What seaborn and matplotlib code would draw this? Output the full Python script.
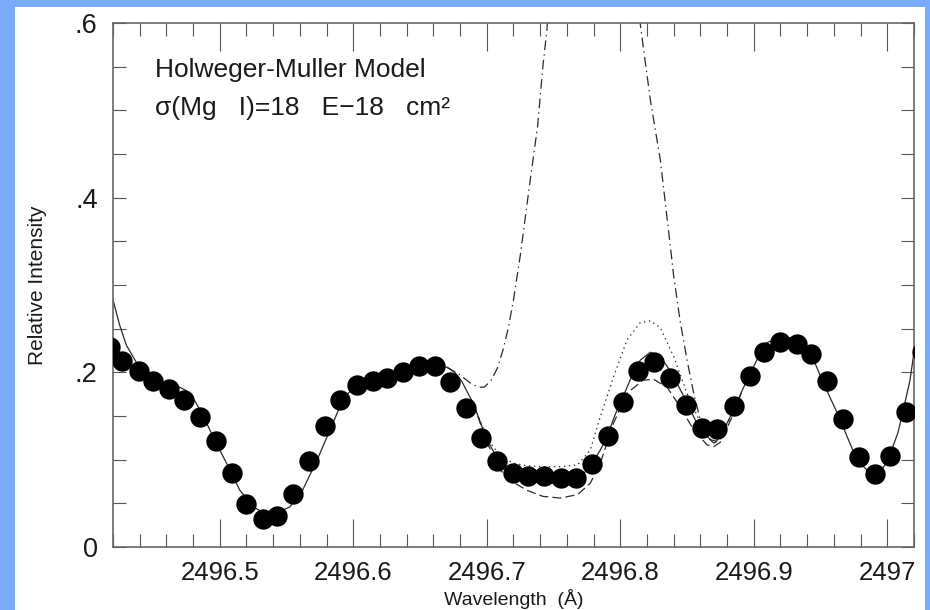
import matplotlib
matplotlib.use("Agg")
import matplotlib.pyplot as plt
from matplotlib.patches import Rectangle
from matplotlib.ticker import MultipleLocator
import seaborn as sns

# ---------------- data ----------------
obs_x = [2496.4175, 2496.427, 2496.4395, 2496.450, 2496.462, 2496.473, 2496.485,
         2496.497, 2496.509, 2496.520, 2496.532, 2496.543, 2496.555, 2496.567,
         2496.579, 2496.590, 2496.6025, 2496.6145, 2496.6255, 2496.6375, 2496.6495,
         2496.661, 2496.6725, 2496.6845, 2496.696, 2496.708, 2496.7195, 2496.731,
         2496.743, 2496.7555, 2496.767, 2496.779, 2496.791, 2496.802, 2496.8135,
         2496.8255, 2496.8375, 2496.8495, 2496.861, 2496.8725, 2496.885, 2496.897,
         2496.908, 2496.920, 2496.932, 2496.943, 2496.955, 2496.967, 2496.979,
         2496.991, 2497.002, 2497.014, 2497.026]
obs_y = [0.229, 0.213, 0.201, 0.190, 0.181, 0.168, 0.149,
         0.121, 0.085, 0.049, 0.032, 0.036, 0.061, 0.098,
         0.138, 0.168, 0.186, 0.190, 0.194, 0.200, 0.207,
         0.207, 0.189, 0.159, 0.125, 0.099, 0.085, 0.081,
         0.081, 0.079, 0.079, 0.095, 0.127, 0.166, 0.202,
         0.212, 0.194, 0.163, 0.136, 0.135, 0.162, 0.196,
         0.223, 0.235, 0.233, 0.221, 0.190, 0.147, 0.103,
         0.084, 0.104, 0.155, 0.223]

model_x = [2496.420, 2496.425, 2496.430, 2496.435, 2496.440, 2496.4475, 2496.455,
           2496.4625, 2496.4685, 2496.475, 2496.481, 2496.487, 2496.495, 2496.505,
           2496.515, 2496.525, 2496.532, 2496.543, 2496.5525, 2496.562, 2496.573,
           2496.5825, 2496.592, 2496.600, 2496.610, 2496.622, 2496.635, 2496.648,
           2496.660, 2496.670, 2496.676, 2496.6815, 2496.690, 2496.700, 2496.710,
           2496.720, 2496.730, 2496.742, 2496.755, 2496.768, 2496.7775, 2496.785,
           2496.790, 2496.796, 2496.802, 2496.809, 2496.815, 2496.8225, 2496.830,
           2496.835, 2496.840, 2496.845, 2496.850, 2496.855, 2496.860, 2496.8675,
           2496.872, 2496.875, 2496.880, 2496.885, 2496.8915, 2496.8975, 2496.9035,
           2496.910, 2496.920, 2496.930, 2496.935, 2496.940, 2496.946, 2496.952,
           2496.959, 2496.965, 2496.970, 2496.975, 2496.980, 2496.985, 2496.993,
           2496.998, 2497.0025, 2497.008, 2497.012, 2497.017, 2497.021]
model_y = [0.283, 0.254, 0.231, 0.218, 0.205, 0.194, 0.189,
           0.187, 0.184, 0.179, 0.168, 0.152, 0.126, 0.096,
           0.065, 0.046, 0.040, 0.039, 0.046, 0.065, 0.100,
           0.134, 0.168, 0.183, 0.189, 0.192, 0.197, 0.202,
           0.205, 0.206, 0.200, 0.189, 0.164, 0.123, 0.096,
           0.081, 0.076, 0.073, 0.073, 0.077, 0.092, 0.111,
           0.126, 0.151, 0.172, 0.197, 0.214, 0.223, 0.218,
           0.207, 0.195, 0.180, 0.165, 0.149, 0.134, 0.123,
           0.121, 0.128, 0.142, 0.157, 0.180, 0.199, 0.218,
           0.234, 0.241, 0.239, 0.235, 0.226, 0.210, 0.188,
           0.165, 0.145, 0.126, 0.108, 0.095, 0.088, 0.085,
           0.093, 0.108, 0.131, 0.157, 0.191, 0.234]

dotted_x = [2496.690, 2496.700, 2496.710, 2496.720, 2496.730, 2496.742, 2496.755,
            2496.768, 2496.7775, 2496.785, 2496.795, 2496.805, 2496.815, 2496.8225,
            2496.830, 2496.840, 2496.850, 2496.860, 2496.8675, 2496.875, 2496.885]
dotted_y = [0.164, 0.125, 0.104, 0.096, 0.093, 0.092, 0.092,
            0.094, 0.111, 0.149, 0.195, 0.237, 0.257, 0.259,
            0.251, 0.218, 0.176, 0.142, 0.123, 0.126, 0.157]

dashed_x = [2496.690, 2496.700, 2496.710, 2496.720, 2496.730, 2496.742, 2496.755,
            2496.768, 2496.7775, 2496.785, 2496.795, 2496.805, 2496.817, 2496.825,
            2496.835, 2496.845, 2496.855, 2496.865, 2496.870, 2496.875, 2496.885,
            2496.8915]
dashed_y = [0.164, 0.120, 0.088, 0.074, 0.065, 0.058, 0.056,
            0.060, 0.073, 0.096, 0.142, 0.176, 0.191, 0.192,
            0.183, 0.160, 0.134, 0.117, 0.115, 0.120, 0.153,
            0.180]

dashdot_x = [2496.670, 2496.680, 2496.6875, 2496.6935, 2496.698, 2496.703, 2496.708,
             2496.712, 2496.716, 2496.720, 2496.725, 2496.7325, 2496.738, 2496.742,
             2496.745, 2496.755, 2496.770, 2496.785, 2496.800, 2496.815, 2496.8225,
             2496.830, 2496.8375, 2496.840, 2496.845, 2496.850, 2496.855, 2496.860,
             2496.865, 2496.870, 2496.875, 2496.885]
dashdot_y = [0.206, 0.197, 0.188, 0.183, 0.183, 0.190, 0.205,
             0.225, 0.250, 0.283, 0.333, 0.420, 0.481, 0.550,
             0.592, 0.800, 0.930, 0.950, 0.830, 0.598, 0.512,
             0.443, 0.344, 0.310, 0.257, 0.214, 0.176, 0.145,
             0.126, 0.119, 0.123, 0.157]

xtick_vals = [2496.5, 2496.6, 2496.7, 2496.8, 2496.9, 2497.0]
xtick_labels = ["2496.5", "2496.6", "2496.7", "2496.8", "2496.9", "2497"]
ytick_vals = [0.0, 0.2, 0.4, 0.6]
ytick_labels = ["0", ".2", ".4", ".6"]

# ---------------- styling ----------------
sns.set_style("ticks")
plt.rcParams["font.family"] = ["Liberation Sans", "DejaVu Sans"]
plt.rcParams["lines.scale_dashes"] = False

W, H = 930, 610
fig = plt.figure(figsize=(W / 100, H / 100), dpi=100)
fig.patch.set_facecolor("#7aaafc")
fig.add_artist(Rectangle((15 / W, 0), (925 - 15) / W, (H - 7) / H,
                         transform=fig.transFigure, facecolor="white",
                         edgecolor="none", zorder=-10))

ax = fig.add_axes([113 / W, (H - 547) / H, (914 - 113) / W, (547 - 23) / H])
ax.set_facecolor("white")

line_col = "#2a2a2a"
sns.lineplot(x=model_x, y=model_y, ax=ax, color=line_col, linewidth=0.9,
             sort=False, estimator=None, zorder=2)
sns.lineplot(x=dotted_x, y=dotted_y, ax=ax, color=line_col, linewidth=0.9,
             linestyle=(0, (1, 2.6)), sort=False, estimator=None, zorder=2)
sns.lineplot(x=dashed_x, y=dashed_y, ax=ax, color=line_col, linewidth=0.9,
             linestyle=(0, (6.5, 3)), sort=False, estimator=None, zorder=2)
sns.lineplot(x=dashdot_x, y=dashdot_y, ax=ax, color=line_col, linewidth=0.9,
             linestyle=(0, (7, 3, 1, 3)), sort=False, estimator=None, zorder=2)
sns.scatterplot(x=obs_x, y=obs_y, ax=ax, s=215, color="black",
                linewidth=0, zorder=3)

ax.set_xlim(2496.42, 2497.02)
ax.set_ylim(0, 0.6)

ax.set_xticks(xtick_vals, labels=xtick_labels)
ax.set_yticks(ytick_vals, labels=ytick_labels)
ax.xaxis.set_minor_locator(MultipleLocator(0.02))
ax.yaxis.set_minor_locator(MultipleLocator(0.05))

tick_col = "#555555"
ax.tick_params(axis="x", which="major", direction="in", length=20, width=0.8,
               top=True, bottom=True, color=tick_col, labelsize=18.5, pad=10,
               labelcolor="#1a1a1a")
ax.tick_params(axis="x", which="minor", direction="in", length=9.5, width=0.8,
               top=True, bottom=True, color=tick_col)
ax.tick_params(axis="y", which="both", direction="in", length=9.5, width=0.8,
               left=True, right=True, color=tick_col, labelsize=19.5, pad=11,
               labelcolor="#1a1a1a")

for sp in ax.spines.values():
    sp.set_color("#666666")
    sp.set_linewidth(1.2)

ax.set_xlabel("Wavelength  (Å)", fontsize=14, color="#1a1a1a")
ax.xaxis.set_label_coords(0.5, -0.0795)
ax.set_ylabel("Relative Intensity", fontsize=15, color="#1a1a1a")
ax.yaxis.set_label_coords(-0.082, 0.5)

ax.text(0.052, 0.897, "Holweger-Muller Model", transform=ax.transAxes,
        fontsize=19, va="baseline", ha="left", color="#1a1a1a")
ax.text(0.052, 0.824, "σ(Mg   I)=18   E−18   cm²", transform=ax.transAxes,
        fontsize=19, va="baseline", ha="left", color="#1a1a1a")

fig.savefig("out.png", dpi=100)
